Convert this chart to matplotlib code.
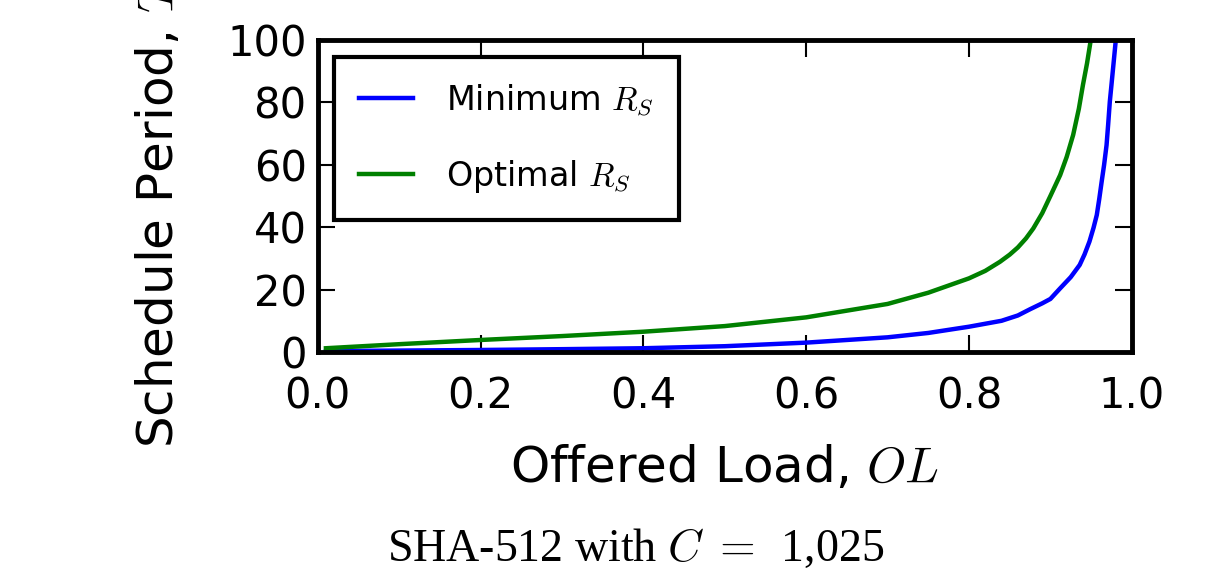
import matplotlib
matplotlib.use("Agg")
import matplotlib.pyplot as plt

plt.rcParams["mathtext.fontset"] = "cm"
plt.rcParams["font.family"] = ["DejaVu Sans"]

# values
ol_min = [0.01, 0.1, 0.2, 0.3, 0.4, 0.5, 0.6, 0.7, 0.75, 0.8, 0.84, 0.86,
          0.875, 0.89, 0.9, 0.912, 0.925, 0.936, 0.942, 0.948, 0.953, 0.957,
          0.960, 0.963, 0.966, 0.969, 0.971, 0.973, 0.975, 0.977, 0.980, 0.983]
rs_min = [0.3, 0.45, 0.64, 0.9, 1.2, 1.85, 3.0, 4.7, 6.1, 8.1, 10.0, 11.7,
          13.7, 15.6, 17.0, 20.4, 24.0, 27.9, 31.3, 35.4, 39.8, 43.9,
          49.0, 54.6, 60.0, 66.3, 73.0, 80.2, 85.5, 90.9, 99.0, 110.0]

ol_opt = [0.01, 0.1, 0.2, 0.3, 0.4, 0.5, 0.6, 0.7, 0.75, 0.8, 0.82, 0.838,
          0.85, 0.86, 0.87, 0.879, 0.89, 0.9, 0.912, 0.92, 0.928, 0.935,
          0.94, 0.945, 0.949, 0.955]
rs_opt = [1.2, 2.5, 3.85, 5.1, 6.5, 8.3, 11.1, 15.4, 19.0, 23.6, 26.0, 28.9,
          31.2, 33.5, 36.4, 39.6, 44.5, 50.0, 56.7, 62.5, 69.6, 78.0,
          85.6, 92.5, 99.0, 112.0]

x_ticks = [0.0, 0.2, 0.4, 0.6, 0.8, 1.0]
y_ticks = [0, 20, 40, 60, 80, 100]

fig = plt.figure(figsize=(12.27, 5.69), dpi=100)
ax = fig.add_axes([0.259, 0.3814, 0.6634, 0.5483])

ax.plot(ol_min, rs_min, color="#0000ff", lw=3.2, label=r"Minimum $R_S$")
ax.plot(ol_opt, rs_opt, color="#008000", lw=3.2, label=r"Optimal $R_S$")

ax.set_xlim(0, 1)
ax.set_ylim(0, 100)
ax.set_xticks(x_ticks)
ax.set_yticks(y_ticks)
ax.set_xticklabels([f"{v:.1f}" for v in x_ticks])
ax.tick_params(direction="in", top=True, right=True, length=12, width=1.5,
               labelsize=30)
ax.tick_params(axis="x", pad=17)
ax.tick_params(axis="y", pad=8)
for s in ax.spines.values():
    s.set_linewidth(3.5)

ax.set_xlabel("Offered Load, $OL$", fontsize=36, labelpad=19)
ax.set_ylabel("Schedule Period, $T_S$", fontsize=36)
ax.yaxis.set_label_coords(-0.165, 0.475)

leg = ax.legend(loc="upper left", fontsize=24, fancybox=False, frameon=True,
                framealpha=1, handlelength=1.6, handletextpad=1.0,
                labelspacing=1.2, borderpad=0.75, borderaxespad=0.5)
leg.get_frame().set_edgecolor("black")
leg.get_frame().set_linewidth(3)

# caption below the plot
fig.text(0.518, 1 - 549 / 569, r"SHA-512 with $C\;=\;\,$1,025",
         family="Liberation Serif", fontsize=33, ha="center", va="center")

fig.savefig("out.png", dpi=100)
